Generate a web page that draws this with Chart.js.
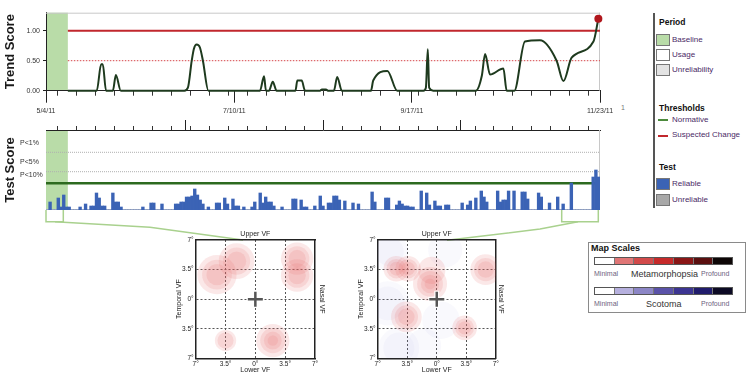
<!DOCTYPE html>
<html>
<head>
<meta charset="utf-8">
<script src="https://cdn.jsdelivr.net/npm/chart.js@4.4.1/dist/chart.umd.min.js"></script>
<style>
  body { margin: 0; background: #fff; font-family: Arial, "Liberation Sans", sans-serif; }
  #wrap { position: relative; width: 753px; height: 381px; overflow: hidden; background: #fff; }
  canvas, svg { position: absolute; }
  .lg { position: absolute; font-size: 8px; line-height: 10px; color: #4a2a66; white-space: nowrap; }
  .head { font-weight: bold; color: #111; font-size: 8.5px; }
  .sw { position: absolute; width: 12px; height: 10px; border: 1px solid #777; }
  .ln { position: absolute; width: 10px; height: 2px; }
  .ramp { position: absolute; display: flex; border: 1px solid #555; box-sizing: border-box; }
  .ramp div { flex: 1; border-left: 1px solid #777; }
  .ramp div:first-child { border-left: none; }
  .small { font-size: 7px; color: #6d5f80; }
</style>
</head>
<body>
<div id="wrap">
  <svg width="753" height="381">
    <g fill="none" stroke="#a9d18e" stroke-width="1.5">
      <polyline points="46,210 46,221.7 63.3,221.7 63.3,210" />
      <polyline points="55,221.7 150,227.2 243,240" />
      <polyline points="561.7,210 561.7,221.7 598.3,221.7 598.3,210" />
      <polyline points="578,221.7 540,229 447,240.3" />
    </g>
  </svg>
  <canvas id="trendChart" width="614" height="120" style="left:0;top:0"></canvas>
  <canvas id="testChart" width="614" height="100" style="left:0;top:115px"></canvas>
  <canvas id="mapLeft" width="178" height="165" style="left:160px;top:216px"></canvas>
  <canvas id="mapRight" width="176" height="165" style="left:341.6px;top:216px"></canvas>

  <!-- legend -->
  <div style="position:absolute;left:653px;top:13px;width:1.5px;height:195px;background:#555"></div>
  <div class="lg small" style="left:621px;top:103px;color:#777">1</div>
  <div class="lg head" style="left:659px;top:17px">Period</div>
  <div class="sw" style="left:656px;top:33.5px;background:#b9dca8"></div>
  <div class="lg" style="left:672px;top:34.5px">Baseline</div>
  <div class="sw" style="left:656px;top:48.5px;background:#fff"></div>
  <div class="lg" style="left:672px;top:49.5px">Usage</div>
  <div class="sw" style="left:656px;top:63.5px;background:#e3e3e3"></div>
  <div class="lg" style="left:672px;top:64.5px">Unreliability</div>
  <div class="lg head" style="left:659px;top:103px">Thresholds</div>
  <div class="ln" style="left:658px;top:119px;background:#4c8a3c"></div>
  <div class="lg" style="left:672px;top:114.5px">Normative</div>
  <div class="ln" style="left:658px;top:134.5px;background:#c1272d"></div>
  <div class="lg" style="left:672px;top:130px">Suspected Change</div>
  <div class="lg head" style="left:659px;top:161.7px">Test</div>
  <div class="sw" style="left:656px;top:178px;background:#3b63b5"></div>
  <div class="lg" style="left:672px;top:179px">Reliable</div>
  <div class="sw" style="left:656px;top:194px;background:#a8a8a8"></div>
  <div class="lg" style="left:672px;top:195px">Unreliable</div>

  <!-- map scales -->
  <div style="position:absolute;left:588px;top:241.5px;width:156px;height:69px;border:1px solid #8a8a8a"></div>
  <div class="lg" style="left:591px;top:243px;font-size:9px;font-weight:bold;color:#111">Map Scales</div>
  <div id="rampMeta" class="ramp" style="left:594px;top:256.5px;width:139px;height:8px"></div>
  <div class="lg small" style="left:594px;top:268.5px">Minimal</div>
  <div class="lg" style="left:631px;top:269px;font-size:9px;color:#333">Metamorphopsia</div>
  <div class="lg small" style="left:701px;top:268.5px">Profound</div>
  <div id="rampScot" class="ramp" style="left:594px;top:286.5px;width:139px;height:8px"></div>
  <div class="lg small" style="left:594px;top:298.5px">Minimal</div>
  <div class="lg" style="left:646px;top:299px;font-size:9px;color:#333">Scotoma</div>
  <div class="lg small" style="left:701px;top:298.5px">Profound</div>
</div>

<script>
// ---- data ----
// days counted from 5/4/11
const dayMax = 203;
const dateTickDays = [0, 69, 134.1, 203];
const dateTickLabels = ["5/4/11", "7/10/11", "9/17/11", "11/23/11"];
const weekTicks = [4.3, 11.25, 18.2, 25.15, 32.1, 39.05, 46.0, 52.95, 59.9, 66.85, 73.8, 80.75,
  87.7, 94.65, 101.6, 108.55, 115.5, 122.45, 129.4, 136.35, 143.3, 150.25, 157.2, 164.15,
  171.1, 178.05, 185.0, 191.95, 198.9];
const baselineDays = [0, 8];

const trendDays = [8, 18.6, 20.2, 20.8, 22, 24.5, 25.6, 27.4, 50.7, 52.0, 53.4, 54.2, 55.2, 56.4,
  57.5, 59.5, 78.4, 79.9, 80.6, 81.7, 83.1, 84.5, 91.4, 92.1, 93.7, 94.9, 100.4, 101.1, 102.6,
  103.3, 105.5, 106.7, 108.4, 119.1, 119.9, 125.1, 128.7, 138.3, 139.2, 139.9, 140.4, 141.9,
  157.5, 159.7, 160.9, 162.7, 167.6, 168.8, 171.6, 175.5, 181.0, 187.1, 189.6, 192.6, 200.6, 202.4];
const trendScores = [0, 0, 0.44, 0.44, 0, 0, 0.26, 0, 0, 0.05, 0.5, 0.7, 0.77, 0.72,
  0.5, 0, 0, 0.24, 0, 0, 0.15, 0, 0, 0.17, 0.17, 0, 0, 0.02, 0.02,
  0, 0, 0.23, 0, 0, 0.17, 0.33, 0, 0, 0.05, 0.69, 0.05, 0,
  0, 0.25, 0.61, 0.27, 0.37, 0, 0, 0.82, 0.84, 0.5, 0.16, 0.55, 0.82, 1.2];
const trendTicks = [0, 0.5, 1];
const suspectedLevel = 1.0;
const cautionLevel = 0.5;

// daily test scores (one per day)
const testScores = [
  0, 8, 0, 0, 12, 3, 15, 3, 3, 0,
  0, 0, 3, 0, 6, 0, 4, 4, 17, 12,
  4, 4, 0, 0, 17, 8, 8, 3, 0, 0,
  0, 0, 0, 0, 0, 3, 0, 0, 7, 7,
  0, 0, 6, 0, 0, 0, 0, 6, 6, 8,
  8, 13, 13, 14, 21, 15, 10, 6, 0, 3,
  0, 0, 7, 7, 0, 12, 6, 0, 11, 4,
  4, 0, 3, 0, 0, 3, 8, 0, 17, 7,
  13, 8, 8, 4, 0, 0, 3, 0, 0, 0,
  11, 11, 0, 10, 3, 3, 0, 0, 4, 0,
  14, 4, 0, 7, 7, 14, 14, 10, 0, 9,
  0, 0, 7, 0, 6, 0, 0, 0, 0, 18,
  8, 0, 0, 0, 12, 12, 0, 0, 5, 9,
  6, 4, 4, 3, 3, 0, 0, 19, 0, 17,
  5, 0, 9, 4, 4, 0, 5, 5, 0, 0,
  0, 0, 7, 0, 5, 9, 0, 12, 0, 19,
  13, 8, 0, 0, 0, 19, 8, 10, 10, 19,
  0, 19, 0, 0, 18, 18, 11, 0, 0, 0,
  17, 13, 0, 0, 7, 0, 0, 13, 0, 6,
  0, 0, 27, 0, 0, 0, 0, 0, 0, 0,
  33, 40, 33];
const testMax = 80;
const testTickValues = [35, 47.7, 67.3];
const testTickLabels = ["P<10%", "P<5%", "P<1%"];
const normativeLevel = 26.7;
const p5Level = 38.3;
const p1Level = 57.7;

// visual field maps, degrees
const fieldTicks = [-7, -3.5, 0, 3.5, 7];
const leftMetaX = [-2.2, -4.5, 4.9, 4.9, -3.5, 2.05];
const leftMetaY = [4.5, 2.9, 4.8, 2.8, -4.9, -4.9];
const leftMetaSize = [2.1, 2.3, 1.9, 1.9, 1.25, 1.95];
const leftMetaLevel = [3, 3, 3, 3, 2, 4];

const rightMetaX = [-4.8, -3.4, -0.8, -0.6, 5.8, -3.6, 3.3];
const rightMetaY = [3.6, 3.6, 1.8, 3.4, 3.5, -2.1, -3.4];
const rightMetaSize = [1.5, 1.5, 2.0, 1.6, 1.8, 1.8, 1.45];
const rightMetaLevel = [3, 3, 4, 1, 3, 3, 3];
const rightScotX = [-5.6, -5.8, -4.5, 1.0, 0.5, -1.5];
const rightScotY = [5.6, -0.5, -5.8, 5.8, -2.5, -5.5];
const rightScotSize = [2.2, 2.6, 2.4, 2.0, 2.2, 2.0];
const rightScotLevel = [2, 2, 2, 1, 1, 1];

const metaRamp = ["#ffffff", "#e07676", "#d24a4a", "#c62a2a", "#8a1616", "#5a0f0f", "#0d0606"];
const scotRamp = ["#ffffff", "#b6b0de", "#8c86c6", "#5a52a8", "#3c3592", "#201c6c", "#0c0a24"];

// ---- ramps ----
function fillRamp(id, colors) {
  const el = document.getElementById(id);
  colors.forEach((c) => {
    const d = document.createElement("div");
    d.style.background = c;
    el.appendChild(d);
  });
}
fillRamp("rampMeta", metaRamp);
fillRamp("rampScot", scotRamp);

// ---- chart helpers ----
Chart.defaults.font.family = "Arial, 'Liberation Sans', sans-serif";
Chart.defaults.animation = false;
Chart.defaults.events = [];
Chart.defaults.plugins.legend.display = false;
Chart.defaults.plugins.tooltip.enabled = false;

function fixedTicks(values) {
  return (scale) => { scale.ticks = values.map((v) => ({ value: v })); };
}
function fixedSize(prop, size) {
  return (scale) => {
    scale[prop] = size;
    scale.paddingLeft = 0; scale.paddingRight = 0;
    scale.paddingTop = 0; scale.paddingBottom = 0;
  };
}

const baselineShade = {
  id: "baselineShade",
  beforeDraw(chart) {
    const { ctx, chartArea } = chart;
    const xs = chart.scales.x;
    const x0 = xs.getPixelForValue(baselineDays[0]);
    const x1 = xs.getPixelForValue(baselineDays[1]);
    ctx.save();
    ctx.fillStyle = "#b9dca8";
    ctx.fillRect(x0, chartArea.top, x1 - x0, chartArea.bottom - chartArea.top);
    ctx.restore();
  },
};

const frame = {
  id: "frame",
  beforeDatasetsDraw(chart, args, opts) {
    const { ctx, chartArea: a } = chart;
    ctx.save();
    ctx.strokeStyle = "#c8c8c8";
    ctx.lineWidth = 1;
    ctx.beginPath();
    (opts.sides || []).forEach((s) => {
      if (s === "top") { ctx.moveTo(a.left, a.top + 0.5); ctx.lineTo(a.right, a.top + 0.5); }
      if (s === "right") { ctx.moveTo(a.right - 0.5, a.top); ctx.lineTo(a.right - 0.5, a.bottom); }
      if (s === "bottom") { ctx.moveTo(a.left, a.bottom - 0.5); ctx.lineTo(a.right, a.bottom - 0.5); }
    });
    ctx.stroke();
    ctx.restore();
  },
};

// ---- trend score ----
new Chart(document.getElementById("trendChart"), {
  type: "line",
  data: {
    datasets: [
      {
        data: trendDays.map((d, i) => ({ x: d, y: trendScores[i] })),
        borderColor: "#1e3a1e",
        borderWidth: 2,
        cubicInterpolationMode: "monotone",
        clip: false,
        pointRadius: (c) => (c.dataIndex === trendDays.length - 1 ? 4 : 0),
        pointBackgroundColor: "#b0161c",
        pointBorderWidth: 0,
      },
      {
        data: [{ x: baselineDays[1], y: suspectedLevel }, { x: dayMax, y: suspectedLevel }],
        borderColor: "#c1272d", borderWidth: 2, pointRadius: 0,
      },
      {
        data: [{ x: baselineDays[1], y: cautionLevel }, { x: dayMax, y: cautionLevel }],
        borderColor: "#d6474b", borderWidth: 1, borderDash: [1.5, 1.5], pointRadius: 0,
      },
    ],
  },
  options: {
    responsive: false,
    layout: { padding: { top: 12.7, right: 14, left: 0, bottom: 0 } },
    plugins: { frame: { sides: ["top", "right"] } },
    scales: {
      x: {
        type: "linear", min: 0, max: dayMax, position: "bottom", weight: 0,
        afterBuildTicks: fixedTicks(weekTicks),
        afterFit: fixedSize("height", 0),
        ticks: { display: false },
        grid: { drawOnChartArea: false, tickLength: 5, color: "#333" },
        border: { color: "#222", width: 1 },
      },
      xMajor: {
        type: "linear", min: 0, max: dayMax, position: "bottom", weight: 1,
        afterBuildTicks: fixedTicks(dateTickDays),
        afterFit: fixedSize("height", 29.3),
        ticks: {
          callback: (v, i) => dateTickLabels[i],
          font: { size: 7 }, color: "#333", padding: 4, maxRotation: 0, autoSkip: false,
        },
        grid: { drawOnChartArea: false, tickLength: 12, color: "#222" },
        border: { display: false },
      },
      y: {
        type: "linear", min: 0, max: 1.3,
        afterBuildTicks: fixedTicks(trendTicks),
        afterFit: fixedSize("width", 46),
        ticks: { callback: (v) => v.toFixed(2), font: { size: 7 }, color: "#333", padding: 3 },
        grid: { drawOnChartArea: false, tickLength: 3, color: "#222" },
        border: { color: "#222", width: 1 },
        title: { display: true, text: "Trend Score", font: { size: 13, weight: "bold" }, color: "#1a1a1a", padding: { top: 2.2 } },
      },
    },
  },
  plugins: [baselineShade, frame],
});

// ---- test score ----
new Chart(document.getElementById("testChart"), {
  type: "bar",
  data: {
    datasets: [
      {
        type: "bar",
        data: testScores.map((v, i) => ({ x: i + 0.5, y: v })),
        backgroundColor: "#3b63b5", borderWidth: 0,
        barPercentage: 1, categoryPercentage: 1,
      },
      {
        type: "line",
        data: [{ x: 0, y: normativeLevel }, { x: dayMax, y: normativeLevel }],
        borderColor: "#2d6a1f", borderWidth: 2.5, pointRadius: 0,
      },
      {
        type: "line",
        data: [{ x: 0, y: p5Level }, { x: dayMax, y: p5Level }],
        borderColor: "#b0b0b0", borderWidth: 1, borderDash: [1, 1], pointRadius: 0,
      },
      {
        type: "line",
        data: [{ x: 0, y: p1Level }, { x: dayMax, y: p1Level }],
        borderColor: "#b0b0b0", borderWidth: 1, borderDash: [1, 1], pointRadius: 0,
      },
    ],
  },
  options: {
    responsive: false,
    layout: { padding: { top: 0, right: 14, left: 0, bottom: 5 } },
    plugins: { frame: { sides: ["right", "bottom"] } },
    scales: {
      x: {
        type: "linear", min: 0, max: dayMax, position: "top", weight: 0, offset: false,
        afterBuildTicks: fixedTicks(weekTicks),
        afterFit: fixedSize("height", 0),
        ticks: { display: false },
        grid: { drawOnChartArea: false, tickLength: 4, color: "#333", offset: false },
        border: { color: "#222", width: 1 },
      },
      xMajor: {
        type: "linear", min: 0, max: dayMax, position: "top", weight: 1,
        afterBuildTicks: fixedTicks(dateTickDays),
        afterFit: fixedSize("height", 15),
        ticks: { display: false },
        grid: { drawOnChartArea: false, tickLength: 10, color: "#222" },
        border: { display: false },
      },
      y: {
        type: "linear", min: 0, max: testMax, weight: 0,
        afterBuildTicks: fixedTicks(testTickValues),
        afterFit: fixedSize("width", 26),
        ticks: { callback: (v, i) => testTickLabels[i], font: { size: 7 }, color: "#333", crossAlign: "far" },
        grid: { display: false },
        border: { display: false },
      },
      yTitle: {
        type: "linear", min: 0, max: testMax, position: "left", weight: 1,
        afterFit: fixedSize("width", 20),
        ticks: { display: false },
        grid: { display: false },
        border: { display: false },
        title: { display: true, text: "Test Score", font: { size: 13, weight: "bold" }, color: "#1a1a1a", padding: { top: 2.2 } },
      },
    },
  },
  plugins: [baselineShade, frame],
});

// ---- visual field maps ----
const layerScale = [1, 0.76, 0.54, 0.32];

function blobLayers(xs, ys, sizes, levels, color) {
  return layerScale.map((k, li) => ({
    data: xs
      .map((x, i) => ({ x: x, y: ys[i], size: sizes[i] * k, lv: levels[i] }))
      .filter((p) => p.lv > li),
    backgroundColor: color,
    borderWidth: 0,
    clip: 0,
  }));
}

function fieldAxis(extra) {
  return Object.assign({
    type: "linear", min: -7, max: 7,
    afterBuildTicks: fixedTicks(fieldTicks),
    ticks: { callback: (v) => Math.abs(v) + "°", font: { size: 6.5 }, color: "#222", padding: 2 },
    grid: {
      drawTicks: false,
      color: (c) => (c.tick && Math.abs(c.tick.value) === 7 ? "rgba(0,0,0,0)" : "#555"),
      lineWidth: 1,
    },
    border: { color: "#222", width: 1.5, dash: [2, 2] },
  }, extra);
}

function makeMap(id, meta, scot, width) {
  const datasets = [
    { data: [{ x: 0, y: 0 }], pointStyle: "cross", radius: 7.5, borderWidth: 2.5, borderColor: "#555", backgroundColor: "#555", clip: 0 },
    { data: [{ x: 0, y: 0 }], pointStyle: "cross", radius: 8.5, borderWidth: 5, borderColor: "rgba(255,255,255,0.9)", backgroundColor: "#fff", clip: 0 },
  ]
    .concat(blobLayers(meta[0], meta[1], meta[2], meta[3], "rgba(228,100,104,0.15)"))
    .concat(scot ? blobLayers(scot[0], scot[1], scot[2], scot[3], "rgba(150,150,210,0.055)") : []);

  const chart = new Chart(document.getElementById(id), {
    type: "bubble",
    data: { datasets: datasets },
    options: {
      responsive: false,
      layout: { padding: 0 },
      scales: {
        x: fieldAxis({
          position: "bottom",
          afterFit: fixedSize("height", 22.7),
          title: { display: true, text: "Lower VF", font: { size: 7 }, color: "#222", padding: { bottom: 6.8 } },
        }),
        y: fieldAxis({
          position: "left",
          afterFit: fixedSize("width", 35.7),
          title: { display: true, text: "Temporal VF", font: { size: 7 }, color: "#222", padding: { top: 14.8 } },
        }),
        xTop: fieldAxis({
          position: "top",
          afterFit: fixedSize("height", 24),
          ticks: { display: false },
          grid: { drawOnChartArea: false, drawTicks: false },
          title: { display: true, text: "Upper VF", font: { size: 7 }, color: "#222", padding: { top: 14.3 } },
        }),
        yRight: fieldAxis({
          position: "right",
          afterFit: fixedSize("width", width - 155),
          ticks: { display: false },
          grid: { drawOnChartArea: false, drawTicks: false },
          title: { display: true, text: "Nasal VF", font: { size: 7 }, color: "#222", padding: { top: 11.8 } },
        }),
      },
    },
  });

  // blob sizes are in degrees: convert to pixel radius with the laid-out x scale
  const xs = chart.scales.x;
  chart.data.datasets.forEach((ds) => {
    ds.data.forEach((p) => {
      if (p.size !== undefined) p.r = Math.abs(xs.getPixelForValue(p.size) - xs.getPixelForValue(0));
    });
  });
  chart.update();
}

makeMap("mapLeft", [leftMetaX, leftMetaY, leftMetaSize, leftMetaLevel], null, 178);
makeMap("mapRight", [rightMetaX, rightMetaY, rightMetaSize, rightMetaLevel],
  [rightScotX, rightScotY, rightScotSize, rightScotLevel], 176);
</script>
</body>
</html>
